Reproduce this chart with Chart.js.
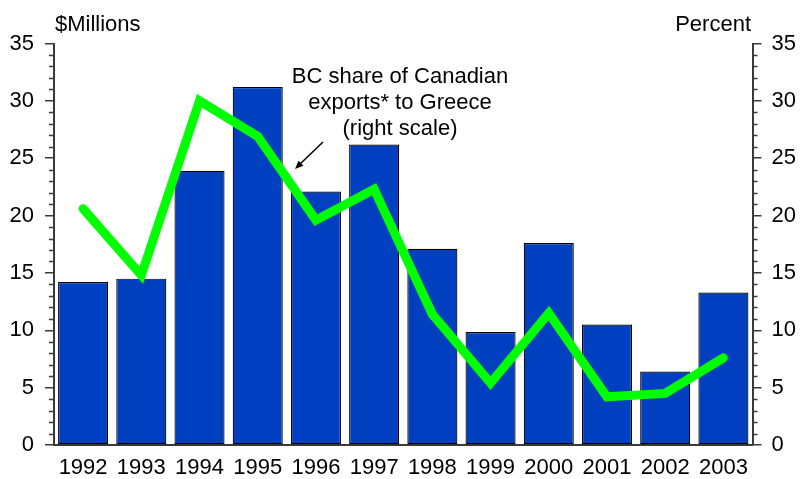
<!DOCTYPE html>
<html>
<head>
<meta charset="utf-8">
<script src="https://cdn.jsdelivr.net/npm/chart.js@4.4.1/dist/chart.umd.min.js"></script>
<style>
  html, body { margin: 0; padding: 0; background: #fff; }
  #wrap { position: relative; width: 800px; height: 479px; }
</style>
</head>
<body>
<div id="wrap"><canvas id="chart"></canvas></div>
<script>
// Chart data
const years = ["1992", "1993", "1994", "1995", "1996", "1997", "1998", "1999", "2000", "2001", "2002", "2003"];
const exportsMillions = [14.2, 14.5, 23.9, 31.2, 22.1, 26.2, 17.1, 9.85, 17.6, 10.5, 6.4, 13.3];
const bcSharePercent = [20.6, 14.8, 30.0, 26.9, 19.6, 22.3, 11.4, 5.4, 11.5, 4.2, 4.5, 7.6];
const axisTicks = [0, 5, 10, 15, 20, 25, 30, 35];
const noteLines = ["BC share of Canadian", "exports* to Greece", "(right scale)"];

const FONT = "Arial, 'Liberation Sans', sans-serif";
const FONT_SIZE = 22;
const AXIS_COLOR = "#3a3a3a";

// Minor ticks, axis titles, the note and its arrow
const extrasPlugin = {
  id: "extras",
  afterDraw(chart) {
    const ctx = chart.ctx;
    const yl = chart.scales.y;
    const yr = chart.scales.y1;
    ctx.save();
    ctx.strokeStyle = AXIS_COLOR;
    ctx.lineWidth = 1.5;
    for (let v = 0; v <= 35; v++) {
      if (v % 5 === 0) continue;
      const yp = Math.round(yl.getPixelForValue(v)) + 0.5;
      ctx.beginPath();
      ctx.moveTo(yl.right, yp);
      ctx.lineTo(yl.right - 5, yp);
      ctx.stroke();
      const yq = Math.round(yr.getPixelForValue(v)) + 0.5;
      ctx.beginPath();
      ctx.moveTo(yr.left, yq);
      ctx.lineTo(yr.left + 5, yq);
      ctx.stroke();
    }

    ctx.fillStyle = "#000";
    ctx.font = FONT_SIZE + "px " + FONT;
    ctx.textBaseline = "alphabetic";
    ctx.textAlign = "left";
    ctx.fillText("$Millions", 55, 31);
    ctx.textAlign = "right";
    ctx.fillText("Percent", 751, 31);

    ctx.textAlign = "center";
    noteLines.forEach((t, i) => ctx.fillText(t, 400, 83 + i * 26));

    // arrow
    const x0 = 323, y0 = 142, x1 = 295, y1 = 169;
    ctx.strokeStyle = "#000";
    ctx.lineWidth = 1.5;
    ctx.beginPath();
    ctx.moveTo(x0, y0);
    ctx.lineTo(x1 + 3, y1 - 3);
    ctx.stroke();
    const ang = Math.atan2(y1 - y0, x1 - x0);
    ctx.beginPath();
    ctx.moveTo(x1, y1);
    ctx.lineTo(x1 - 9 * Math.cos(ang - 0.4), y1 - 9 * Math.sin(ang - 0.4));
    ctx.lineTo(x1 - 9 * Math.cos(ang + 0.4), y1 - 9 * Math.sin(ang + 0.4));
    ctx.closePath();
    ctx.fillStyle = "#000";
    ctx.fill();
    ctx.restore();
  },
};

const ctx = document.getElementById("chart").getContext("2d");
new Chart(ctx, {
  data: {
    labels: years,
    datasets: [
      {
        type: "line",
        label: "BC share",
        data: bcSharePercent,
        yAxisID: "y1",
        borderColor: "#00ff00",
        borderWidth: 9,
        borderCapStyle: "round",
        borderJoinStyle: "miter",
        pointRadius: 0,
        tension: 0,
        order: 0,
      },
      {
        type: "bar",
        label: "Exports",
        data: exportsMillions,
        yAxisID: "y",
        backgroundColor: "#0040c0",
        borderColor: "#000",
        borderWidth: 1.2,
        borderSkipped: false,
        barPercentage: 0.86,
        categoryPercentage: 1,
        order: 1,
      },
    ],
  },
  options: {
    responsive: true,
    maintainAspectRatio: false,
    animation: false,
    layout: { padding: { top: 43.5, left: 0, right: 0, bottom: 0 } },
    plugins: {
      legend: { display: false },
      tooltip: { enabled: false },
    },
    scales: {
      x: {
        offset: true,
        grid: { display: false, drawTicks: false },
        border: { display: true, color: AXIS_COLOR, width: 2 },
        ticks: { color: "#000", font: { family: FONT, size: FONT_SIZE }, padding: 10, maxRotation: 0 },
        afterFit: (s) => { s.height = 34; },
      },
      y: {
        position: "left",
        min: 0,
        max: 35,
        afterBuildTicks: (s) => { s.ticks = axisTicks.map((v) => ({ value: v })); },
        grid: { drawOnChartArea: false, drawTicks: true, tickLength: 9, color: AXIS_COLOR, lineWidth: 1.5 },
        border: { display: true, color: AXIS_COLOR, width: 2 },
        ticks: { color: "#000", font: { family: FONT, size: FONT_SIZE }, padding: 11 },
        afterFit: (s) => { s.width = 54; },
      },
      y1: {
        position: "right",
        min: 0,
        max: 35,
        afterBuildTicks: (s) => { s.ticks = axisTicks.map((v) => ({ value: v })); },
        grid: { drawOnChartArea: false, drawTicks: true, tickLength: 9, color: AXIS_COLOR, lineWidth: 1.5 },
        border: { display: true, color: AXIS_COLOR, width: 2 },
        ticks: { color: "#000", font: { family: FONT, size: FONT_SIZE }, padding: 10 },
        afterFit: (s) => { s.width = 47.5; },
      },
    },
  },
  plugins: [extrasPlugin],
});
</script>
</body>
</html>
